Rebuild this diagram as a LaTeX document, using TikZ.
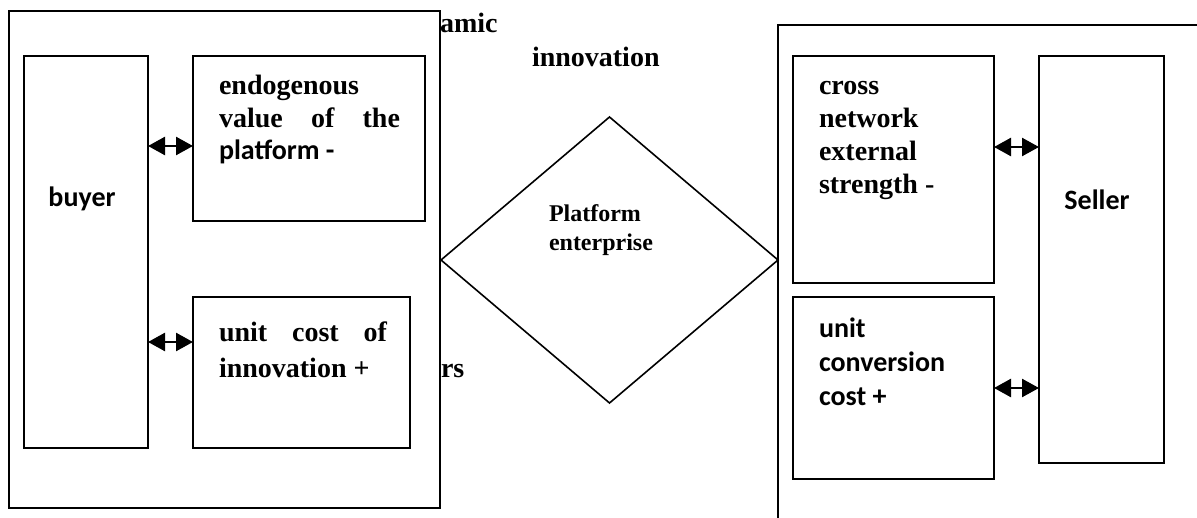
\documentclass[tikz,border=0pt]{standalone}
\usepackage{fontspec}
\setmainfont{Liberation Serif}
\newfontfamily\calfont{Carlito}
\usetikzlibrary{shapes.geometric,arrows.meta}
\begin{document}
\begin{tikzpicture}[x=1pt,y=-1pt,
  box/.style={draw,line width=2pt,inner sep=0pt,outer sep=0pt,rectangle},
  lbl/.style={inner sep=0pt,outer sep=0pt,font=\bfseries\fontsize{28}{32}\selectfont},
  small/.style={inner sep=0pt,outer sep=0pt,font=\bfseries\fontsize{24}{29}\selectfont},
  dbl/.style={line width=2.5pt,{Triangle[length=17pt,width=18pt]}-{Triangle[length=17pt,width=18pt]}}]
\useasboundingbox (0,0) rectangle (1197,518);
\clip (0,0) rectangle (1197,518);
% fragments of texts partly hidden
\node[lbl,anchor=base west] (tamic) at (440,33) {amic};
\node[lbl,anchor=base west] (trs) at (441,378) {rs};
\node[lbl,anchor=base west] (tinno) at (532,67) {innovation};
% left group
\node[box,minimum width=431pt,minimum height=497pt] (outerL) at (224.5,259.5) {};
\node[box,minimum width=124pt,minimum height=392pt] (buyer) at (86,252) {};
\node[box,minimum width=232pt,minimum height=165pt] (endo) at (309,138.5) {};
\node[box,minimum width=217pt,minimum height=151pt] (ucost) at (301.5,372.5) {};
% right group
\node[box,minimum width=452pt,minimum height=515pt] (outerR) at (1004,282.5) {};
\node[box,minimum width=201pt,minimum height=227pt] (cross) at (893.5,169.5) {};
\node[box,minimum width=201pt,minimum height=182pt] (conv) at (893.5,388) {};
\node[box,minimum width=125pt,minimum height=407pt] (seller) at (1101.5,259.5) {};
% platform
\node[draw,diamond,line width=1.6pt,inner sep=0pt,outer sep=0pt,minimum width=337pt,minimum height=286pt] (plat) at (609.5,260) {};
\node[small,anchor=base west] (tplat) at (549,222) {\vtop{\baselineskip=29pt\lineskiplimit=-100pt\hbox{Platform}\hbox{enterprise}}};
% box texts
\node[lbl,anchor=base] (tbuyer) at (82,207) {\calfont buyer};
\node[lbl,anchor=base] (tseller) at (1097,210) {\calfont Seller};
\node[lbl,anchor=base west] (tendo) at (219,95) {\vtop{\baselineskip=32.5pt\lineskiplimit=-100pt\hbox{endogenous}\hbox to 181pt{value\hfill of\hfill the}\hbox{\calfont platform -}}};
\node[lbl,anchor=base west] (tucost) at (219,342) {\vtop{\baselineskip=36pt\lineskiplimit=-100pt\hbox to 168pt{unit\hfill cost\hfill of}\hbox{innovation +}}};
\node[lbl,anchor=base west] (tcross) at (819,95) {\vtop{\baselineskip=32.7pt\lineskiplimit=-100pt\hbox{cross}\hbox{network}\hbox{external}\hbox{strength -}}};
\node[lbl,anchor=base west] (tconv) at (819,338) {\calfont\vtop{\baselineskip=34pt\lineskiplimit=-100pt\hbox{unit}\hbox{conversion}\hbox{cost +}}};
% arrows
\coordinate (ya) at (0,146);
\coordinate (yb) at (0,342);
\coordinate (yc) at (0,147);
\coordinate (yd) at (0,388);
\draw[dbl] (buyer.east |- ya) -- (endo.west |- ya);
\draw[dbl] (buyer.east |- yb) -- (ucost.west |- yb);
\draw[dbl] (cross.east |- yc) -- (seller.west |- yc);
\draw[dbl] (conv.east |- yd) -- (seller.west |- yd);
\end{tikzpicture}
\end{document}
